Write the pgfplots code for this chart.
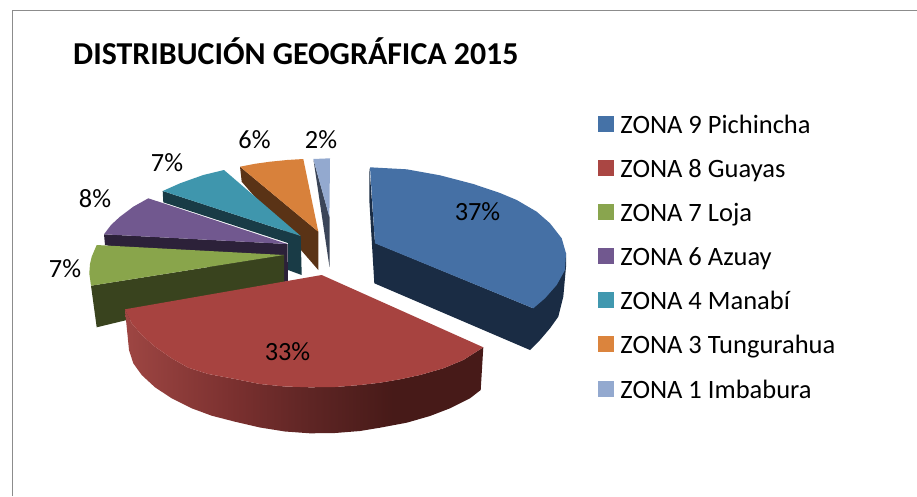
\documentclass[border=0pt]{standalone}
\usepackage{fontspec}
\setmainfont{Carlito}
\usepackage{pgfplots}
\pgfplotsset{compat=1.18}
\definecolor{cA}{HTML}{4572A7}\definecolor{cB}{HTML}{AA4643}\definecolor{cC}{HTML}{89A54E}
\definecolor{cD}{HTML}{71588F}\definecolor{cE}{HTML}{4198AF}\definecolor{cF}{HTML}{DB843D}\definecolor{cG}{HTML}{93A9CF}
\definecolor{tA}{HTML}{4570A5}\definecolor{tB}{HTML}{A74340}\definecolor{tC}{HTML}{89A54B}
\definecolor{tD}{HTML}{71588F}\definecolor{tE}{HTML}{3F96AD}\definecolor{tF}{HTML}{D8813B}\definecolor{tG}{HTML}{93A9CF}
\definecolor{sA}{HTML}{1A2C44}\definecolor{sC}{HTML}{39431E}\definecolor{sD}{HTML}{2C2139}
\definecolor{sE}{HTML}{193B46}\definecolor{sF}{HTML}{5A3316}\definecolor{sG}{HTML}{3B4558}
\definecolor{frameg}{HTML}{8C8C8C}
\definecolor{rs1}{HTML}{9E4643}\definecolor{rs2}{HTML}{7A302F}\definecolor{rs3}{HTML}{5E2524}\definecolor{rs4}{HTML}{471A18}
\pgfdeclarehorizontalshading{redside}{100bp}{
 color(0bp)=(rs1); color(25bp)=(rs1); color(40.4bp)=(rs2); color(51bp)=(rs3); color(62.4bp)=(rs4); color(75bp)=(rs4); color(100bp)=(rs4)}
\begin{document}
\begin{tikzpicture}
\useasboundingbox (0,0) rectangle (917pt,496pt);
\begin{axis}[
 at={(0,0)},anchor=south west,scale only axis,width=917pt,height=496pt,
 xmin=0,xmax=917,ymin=0,ymax=496,y dir=reverse,
 hide axis,clip=false,
 legend style={at={(axis cs:598,115)},anchor=north west,draw=none,fill=none,inner sep=0pt,outer sep=0pt,
   font=\fontsize{26.5}{29}\selectfont,row sep=24.4pt,
   legend cell align=left,
   nodes={inner sep=0pt,outer sep=0pt,anchor=base west}},
 legend image code/.code={\fill[#1] (0pt,2.5pt) rectangle (15pt,17.5pt);},
]
\addlegendimage{cA}\addlegendentry{\hspace{7pt}ZONA 9 Pichincha}
\addlegendimage{cB}\addlegendentry{\hspace{7pt}ZONA 8 Guayas}
\addlegendimage{cC}\addlegendentry{\hspace{7pt}ZONA 7 Loja}
\addlegendimage{cD}\addlegendentry{\hspace{7pt}ZONA 6 Azuay}
\addlegendimage{cE}\addlegendentry{\hspace{7pt}ZONA 4 Manabí}
\addlegendimage{cF}\addlegendentry{\hspace{7pt}ZONA 3 Tungurahua}
\addlegendimage{cG}\addlegendentry{\hspace{7pt}ZONA 1 Imbabura}

% frame
\addplot[forget plot,frameg,line width=1.6pt] coordinates {(12.5,496) (12.5,10.5) (917,10.5)};

% ZONA 1 Imbabura
\addplot[forget plot,fill=sG,draw=none] coordinates {(313.5,160) (329.5,217) (329.5,267)} --cycle;
\addplot[forget plot,fill=tG,draw=none] coordinates {(313.3,159) (330,158.3) (329.4,217)} --cycle;
% ZONA 3 Tungurahua
\addplot[forget plot,fill=sF,draw=none] coordinates {(240,166.7) (318.3,231.7) (318.3,270) (241.7,181.7)} --cycle;
\addplot[forget plot,fill=tF,draw=none] coordinates {(240,166.7) (255,163.8) (270,161.7) (287,160) (303.3,159) (318.3,231.7)} --cycle;
% ZONA 4 Manabi
\addplot[forget plot,fill=sE,draw=none] coordinates {(162.7,191) (300.7,236) (301.7,275) (288,270) (288,243) (163.3,202.3)} --cycle;
\addplot[forget plot,fill=tE,draw=none] coordinates {(162.7,191) (180,183.3) (203.3,175) (224,170) (300.7,236)} --cycle;
% ZONA 6 Azuay
\addplot[forget plot,fill=sD,draw=none] coordinates {(104,234.3) (287.5,244) (288,281) (280,283) (105,245)} --cycle;
\addplot[forget plot,fill=tD,draw=none] coordinates {(104,234.3) (111,225) (120,216.7) (133.3,206.7) (148.3,198.3) (287.3,244)} --cycle;
% ZONA 7 Loja
\addplot[forget plot,fill=sC,draw=none] coordinates {(284,255) (284,282) (96.7,327.3) (91,285.7)} --cycle;
\addplot[forget plot,fill=tC,draw=none] coordinates {(91,285.7) (89.3,273.3) (90,264) (91.7,256.7) (96.7,245) (284,255)} --cycle;
% ZONA 8 Guayas
\addplot[forget plot,shade,shading=redside,draw=none] coordinates {
 (125,309.3) (131.7,323.3) (141.7,335) (155,346.7) (171.7,358.3) (188.3,367.7) (208.3,374) (235,379)
 (260,384) (285,386.5) (310,387.3) (335,387) (360,385) (380,382.7) (400,379.3) (420,375) (443.3,368.3) (463.3,360) (483.3,347.3)
 (480.7,390) (470,398.3) (450,408.3) (430,416) (406.7,422.7) (380,427.7) (360,431) (335,433) (310,433.3) (285,431.5) (260,427.5)
 (235,421.7) (211.7,415.7) (191.7,408.3) (171.7,398.3) (155,387.3) (141.7,375) (133.3,363.3) (129,350) (127.7,336.7) (126,320)} --cycle;
\addplot[forget plot,fill=tB,draw=none] coordinates {
 (321.7,275) (125,309.3) (131.7,323.3) (141.7,335) (155,346.7) (171.7,358.3) (188.3,367.7) (208.3,374) (235,379)
 (260,384) (285,386.5) (310,387.3) (335,387) (360,385) (380,382.7) (400,379.3) (420,375) (443.3,368.3) (463.3,360) (483.3,347.3)} --cycle;
% ZONA 9 Pichincha
\addplot[forget plot,fill=sA,draw=none] coordinates {(369.5,168) (369.3,200) (374.3,283.3) (530,350) (540,340) (550,328.3) (558.3,316.7) (563.3,296.7) (566,266.7) (566,253) (533.3,308.3) (375,243)} --cycle;
\addplot[forget plot,fill=tA,draw=none] coordinates {(370,167.3) (406.7,169.3) (440,175.3) (473.3,184) (500,193) (516.7,200) (536.7,211.7) (550,223.3) (561.7,238.3) (566,253.3) (565,270) (556.7,285) (545,298.3) (533.3,308.3) (375,243.3)} --cycle;

\node[anchor=base west,font=\fontsize{31.9}{35}\selectfont\bfseries] at (axis cs:69.7,64) {DISTRIBUCIÓN GEOGRÁFICA 2015};
\foreach \x/\y/\t in {477.5/220.5/37\%,287.5/360.5/33\%,65/277/7\%,95/207/8\%,167/171/7\%,254.5/148/6\%,321/148/2\%}{
 \edef\tmp{\noexpand\node[anchor=base,font=\noexpand\fontsize{26.3}{29}\noexpand\selectfont] at (axis cs:\x,\y) {\t};}\tmp
}
\end{axis}
\end{tikzpicture}
\end{document}
